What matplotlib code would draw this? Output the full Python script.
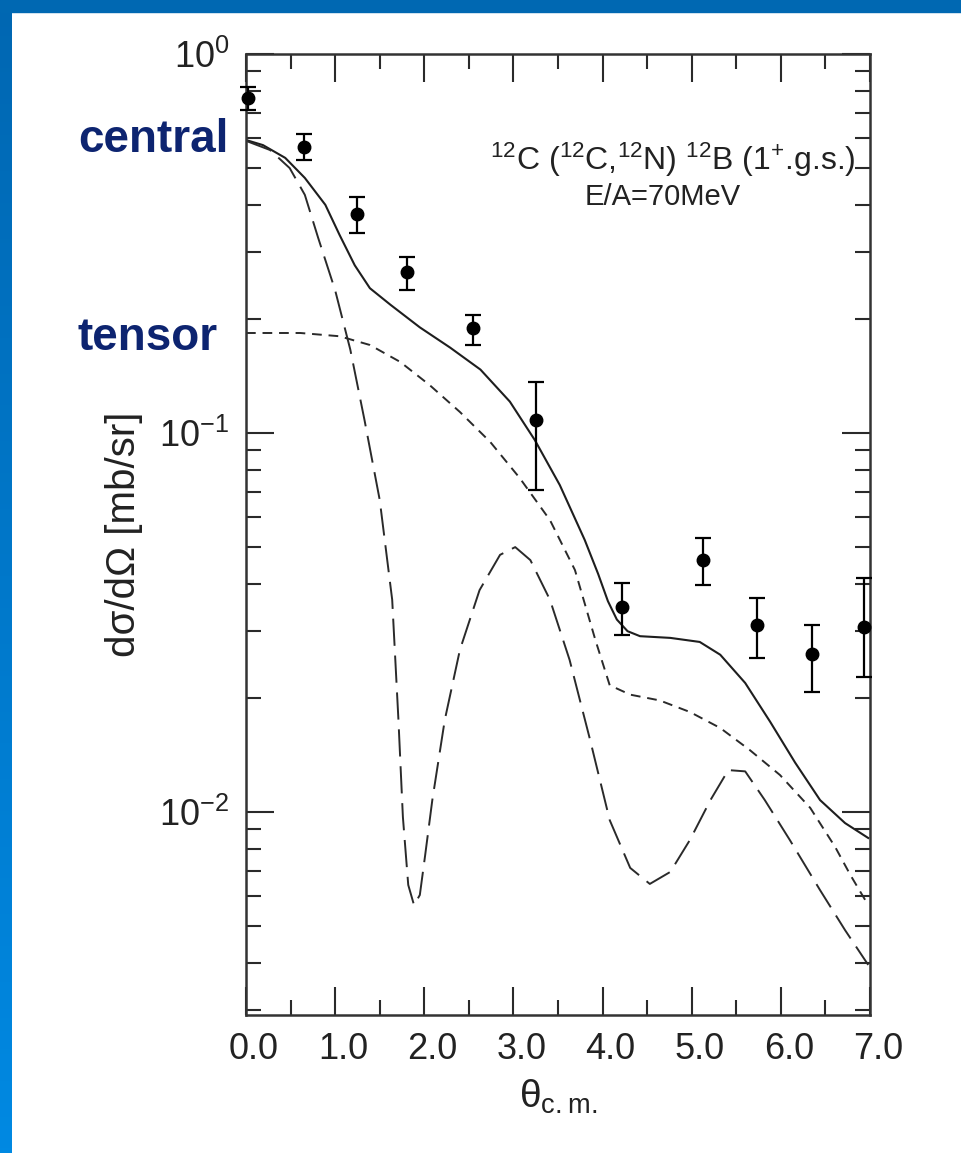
import numpy as np
import matplotlib.pyplot as plt
from matplotlib.colors import LinearSegmentedColormap
from matplotlib.patches import Rectangle
from matplotlib.ticker import MultipleLocator, LogLocator, NullFormatter, FormatStrFormatter
import matplotlib.transforms as mtransforms

plt.rcParams['font.family'] = ['Liberation Sans', 'DejaVu Sans']
plt.rcParams['mathtext.default'] = 'regular'

# measured points with error bars
theta_exp = [0.02, 0.65, 1.24, 1.81, 2.55, 3.25, 4.22, 5.13, 5.73, 6.35, 6.93]
xsec_exp = [0.765, 0.568, 0.378, 0.266, 0.189, 0.108, 0.0347, 0.0462, 0.0311, 0.0261, 0.0308]
xsec_lo = [0.712, 0.525, 0.337, 0.238, 0.171, 0.0707, 0.0293, 0.0397, 0.0255, 0.0207, 0.0227]
xsec_hi = [0.818, 0.615, 0.420, 0.291, 0.205, 0.136, 0.0402, 0.0528, 0.0367, 0.0311, 0.0414]

# total (solid)
theta_total = [0.00, 0.19, 0.44, 0.66, 0.89, 1.05, 1.22, 1.39, 1.62, 1.95, 2.29, 2.63, 2.96,
               3.24, 3.52, 3.80, 3.95, 4.06, 4.16, 4.28, 4.42, 4.76, 5.09, 5.32, 5.60, 5.88,
               6.16, 6.44, 6.72, 6.98]
xsec_total = [0.593, 0.575, 0.532, 0.471, 0.400, 0.333, 0.277, 0.241, 0.218, 0.190, 0.168,
              0.147, 0.121, 0.0958, 0.0729, 0.0522, 0.0425, 0.0360, 0.0322, 0.0300, 0.0291,
              0.0288, 0.0281, 0.0260, 0.0219, 0.0173, 0.0135, 0.01075, 0.00935, 0.00854]

# central (long dash)
theta_central = [0.00, 0.27, 0.49, 0.66, 0.81, 1.00, 1.17, 1.33, 1.50, 1.64, 1.71, 1.76, 1.82,
                 1.885, 1.95, 2.01, 2.09, 2.23, 2.40, 2.62, 2.85, 3.02, 3.19, 3.41, 3.63, 3.86,
                 4.08, 4.31, 4.53, 4.76, 4.98, 5.21, 5.41, 5.60, 5.82, 6.10, 6.44, 6.72, 6.98]
xsec_central = [0.590, 0.558, 0.500, 0.425, 0.327, 0.238, 0.166, 0.108, 0.0666, 0.0363, 0.0175,
                0.0097, 0.00642, 0.00568, 0.00604, 0.0077, 0.01075, 0.0175, 0.0268, 0.0385,
                0.0477, 0.0500, 0.0462, 0.0363, 0.0252, 0.0155, 0.00952, 0.00712, 0.00646,
                0.00695, 0.00844, 0.01075, 0.0129, 0.0128, 0.01075, 0.00844, 0.00622, 0.00488,
                0.00395]

# tensor (short dash)
theta_tensor = [0.00, 0.61, 1.05, 1.39, 1.73, 2.06, 2.40, 2.74, 3.07, 3.41, 3.69, 3.92, 4.08,
                4.31, 4.64, 4.98, 5.32, 5.65, 5.99, 6.33, 6.61, 6.78, 6.98]
xsec_tensor = [0.1836, 0.1836, 0.180, 0.1707, 0.154, 0.1338, 0.1136, 0.0947, 0.0761, 0.0589,
               0.0435, 0.0284, 0.0216, 0.0204, 0.0197, 0.01836, 0.01666, 0.01458, 0.01252,
               0.01025, 0.00808, 0.00682, 0.00568]

fig = plt.figure(figsize=(9.61, 11.53), dpi=100)

# blue frame of the slide
band = fig.add_axes([0, 0, 12 / 961, 1])
grad = np.linspace(0, 1, 256).reshape(-1, 1)
band.imshow(grad, aspect='auto', cmap=LinearSegmentedColormap.from_list('b', ['#0067b2', '#0089e2']))
band.axis('off')
fig.patches.append(Rectangle((0, 1 - 12 / 1153), 1, 12 / 1153, transform=fig.transFigure,
                             color='#0068b2', zorder=5))

ax = fig.add_axes([246 / 961, 138 / 1153, 624 / 961, 961 / 1153])
ax.set_yscale('log')
ax.set_xlim(0, 7.0)
ax.set_ylim(10 ** -2.5356, 1.0)

ax.plot(theta_total, xsec_total, color='#1e1e1e', lw=1.5)
ax.plot(theta_central, xsec_central, color='#2a2a2a', lw=1.4, dashes=(14, 5))
ax.plot(theta_tensor, xsec_tensor, color='#2a2a2a', lw=1.4, dashes=(5, 3.5))

y = np.array(xsec_exp)
yerr = [y - np.array(xsec_lo), np.array(xsec_hi) - y]
ax.errorbar(theta_exp, xsec_exp, yerr=yerr, fmt='o', color='black', ms=9, capsize=6,
            elinewidth=1.6, capthick=1.6, clip_on=False, zorder=4)

ax.xaxis.set_major_locator(MultipleLocator(1))
ax.xaxis.set_minor_locator(MultipleLocator(0.5))
ax.xaxis.set_major_formatter(FormatStrFormatter('%.1f'))
ax.yaxis.set_major_locator(LogLocator(base=10, numticks=10))
ax.yaxis.set_minor_locator(LogLocator(base=10, subs=np.arange(2, 10), numticks=20))
ax.yaxis.set_minor_formatter(NullFormatter())
ax.tick_params(which='both', direction='in', top=True, right=True, colors='#2a2a2a',
               labelcolor='#222222')
ax.tick_params(which='major', length=20, width=1.5, labelsize=26, pad=12)
ax.tick_params(which='minor', length=11, width=1.5)
for s in ax.spines.values():
    s.set_linewidth(1.8)
    s.set_color('#333333')

offset = mtransforms.ScaledTranslation(0.08, 0, fig.dpi_scale_trans)
for lab in ax.get_xticklabels():
    lab.set_transform(lab.get_transform() + offset)

ax.set_xlabel('θ$_{c.m.}$', fontsize=28, color='#222222', labelpad=8)
ax.set_ylabel('dσ/dΩ [mb/sr]', fontsize=29, color='#222222')
ax.yaxis.set_label_coords(-0.165, 0.5)

ax.text(0.391, 0.879, '$^{12}$C ($^{12}$C,$^{12}$N) $^{12}$B (1$^{+}$.g.s.)', transform=ax.transAxes,
        fontsize=23, va='baseline', color='#222222')
ax.text(0.543, 0.843, 'E/A=70MeV', transform=ax.transAxes, fontsize=21, va='baseline',
        color='#222222')

fig.text(78 / 961, 1 - 152 / 1153, 'central', fontsize=33, fontweight='bold', color='#0d2470',
         va='baseline')
fig.text(78 / 961, 1 - 350 / 1153, 'tensor', fontsize=33, fontweight='bold', color='#0d2470',
         va='baseline')

fig.savefig('out.png', dpi=100)
